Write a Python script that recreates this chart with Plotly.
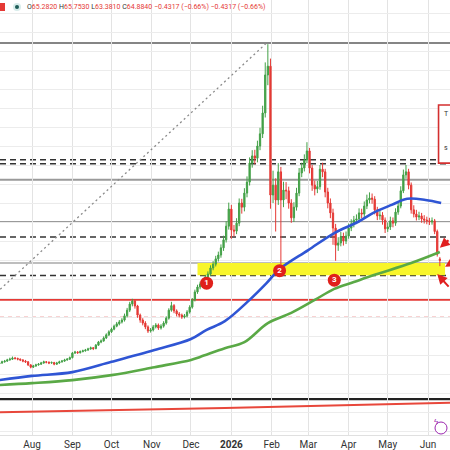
import plotly.graph_objects as go
import pandas as pd

# ---------------- data ----------------
candle_dates = pd.date_range("2025-07-07", periods=170, freq="2D")
FIRST_OPEN = 37.7
LAST_O, LAST_H, LAST_L, LAST_C = 65.2820, 65.7530, 63.3810, 64.8840
CHANGE, CHANGE_PCT = -0.4317, -0.66

closes = [37.9, 38.2, 38.4, 38.7, 38.9, 39.2, 39.1, 38.9, 38.7, 38.4,
          38.2, 37.4, 36.8, 37.1, 37.4, 37.6, 37.9, 38.2, 38.1, 37.9,
          38.0, 37.6, 37.9, 38.2, 38.4, 38.7, 38.9, 39.3, 40.5, 40.8,
          40.6, 40.9, 41.1, 41.3, 41.6, 41.9, 41.7, 42.6, 43.4, 43.7,
          44.5, 45.3, 46.1, 46.8, 47.6, 48.2, 48.7, 49.2, 50.3, 51.8,
          53.4, 54.2, 52.9, 50.5, 49.2, 48.4, 47.4, 46.3, 46.6, 47.4,
          47.9, 47.1, 47.6, 48.4, 49.7, 51.8, 53.0, 51.6, 50.8, 50.5,
          50.0, 50.3, 51.3, 52.6, 54.5, 56.6, 57.9, 58.7, 58.4, 60.5,
          61.3, 62.9, 63.9, 65.3, 66.3, 68.2, 70.3, 73.9, 78.4, 72.9,
          72.6, 74.7, 80.0, 78.9, 82.6, 85.5, 90.5, 92.4, 91.8, 95.0,
          98.2, 103.7, 113.7, 116.0, 82.1, 84.7, 80.8, 88.2, 80.8, 83.4,
          83.2, 80.0, 76.1, 78.9, 82.6, 87.9, 89.2, 91.3, 93.7, 89.2,
          84.7, 83.7, 84.3, 88.9, 88.2, 82.9, 80.0, 77.4, 73.4, 68.9,
          69.5, 71.1, 70.0, 71.3, 73.4, 74.5, 75.5, 75.8, 77.4, 77.1,
          79.2, 80.8, 81.3, 81.0, 78.2, 76.6, 76.8, 75.5, 73.2, 73.7,
          75.3, 74.7, 77.6, 79.2, 83.2, 87.4, 88.2, 84.7, 78.2, 77.1,
          76.3, 76.6, 75.8, 75.5, 75.3, 75.0, 75.3, 72.5, 66.5] + [LAST_C]

highs = [38.2, 38.5, 38.7, 39.0, 39.3, 39.6, 39.5, 39.3, 39.1, 38.9,
         38.7, 38.4, 37.6, 37.4, 37.7, 37.9, 38.2, 38.5, 38.4, 38.3,
         38.3, 38.2, 38.2, 38.5, 38.7, 39.0, 39.2, 39.6, 40.8, 41.1,
         41.0, 41.2, 41.4, 41.6, 41.9, 42.2, 42.1, 42.9, 43.7, 44.1,
         44.9, 45.7, 46.5, 47.2, 48.0, 48.7, 49.2, 49.7, 50.9, 52.4,
         54.0, 54.8, 54.5, 53.2, 50.9, 49.7, 48.9, 47.8, 47.1, 47.9,
         48.4, 48.3, 48.1, 48.9, 50.2, 52.3, 54.0, 53.4, 52.0, 51.3,
         50.9, 50.8, 51.8, 53.1, 55.0, 57.2, 58.5, 59.3, 59.4, 61.1,
         62.0, 63.6, 64.7, 66.1, 67.2, 69.1, 71.4, 75.2, 80.1, 79.5,
         74.2, 76.0, 81.2, 81.1, 83.9, 87.0, 92.0, 93.9, 94.0, 96.4,
         99.8, 105.6, 117.0, 121.8, 118.0, 88.5, 86.5, 90.5, 89.5, 85.6,
         85.5, 84.3, 81.0, 80.2, 84.0, 89.2, 90.6, 92.8, 96.0, 94.5,
         90.0, 85.9, 85.8, 90.0, 90.6, 89.0, 84.0, 81.2, 78.5, 74.5,
         71.0, 72.4, 72.2, 72.5, 74.6, 75.7, 76.6, 77.0, 78.6, 78.5,
         80.4, 82.2, 82.8, 82.5, 81.8, 79.0, 78.0, 77.6, 76.2, 74.9,
         76.4, 76.2, 78.6, 80.3, 84.4, 88.8, 90.0, 89.0, 85.4, 79.4,
         78.2, 77.7, 77.4, 76.8, 76.4, 76.1, 76.2, 75.8, 73.0] + [LAST_H]

lows = [37.5, 37.7, 38.0, 38.2, 38.5, 38.7, 38.8, 38.6, 38.4, 38.1,
        37.9, 37.1, 36.5, 36.6, 36.9, 37.2, 37.4, 37.7, 37.8, 37.6,
        37.7, 37.3, 37.4, 37.7, 38.0, 38.2, 38.5, 38.7, 39.1, 40.3,
        40.3, 40.4, 40.7, 40.9, 41.1, 41.4, 41.3, 41.5, 42.4, 43.1,
        43.5, 44.2, 45.0, 45.8, 46.5, 47.3, 47.8, 48.3, 48.8, 49.9,
        51.3, 52.8, 52.2, 49.8, 48.5, 47.8, 46.8, 45.8, 45.9, 46.2,
        47.0, 46.6, 46.7, 47.2, 48.0, 49.3, 51.4, 51.0, 50.2, 49.9,
        49.5, 49.6, 49.9, 50.9, 52.2, 54.1, 56.1, 57.3, 57.8, 58.0,
        59.9, 60.8, 62.3, 63.3, 64.6, 65.6, 67.4, 69.6, 73.0, 70.6,
        71.2, 71.8, 73.9, 77.2, 77.8, 81.5, 84.6, 89.3, 90.2, 90.7,
        93.9, 97.1, 102.5, 111.0, 78.5, 80.0, 72.5, 79.5, 63.8, 78.9,
        81.0, 78.5, 74.8, 75.0, 78.0, 81.8, 86.8, 88.3, 90.5, 87.8,
        83.2, 82.0, 82.6, 83.5, 86.8, 81.5, 78.6, 76.0, 69.0, 64.8,
        67.4, 68.6, 68.8, 69.2, 70.6, 72.6, 73.6, 74.6, 74.9, 76.0,
        76.3, 78.4, 79.9, 79.8, 77.0, 75.5, 75.6, 74.3, 72.1, 72.4,
        72.9, 73.6, 74.0, 76.9, 78.6, 82.6, 86.4, 83.6, 77.2, 76.2,
        75.4, 75.5, 74.8, 74.6, 74.4, 74.2, 74.3, 71.8, 65.9] + [LAST_L]

opens = [FIRST_OPEN] + closes[:-2] + [LAST_O]

ma_blue_dates = ["2025-07-07", "2025-08-01", "2025-09-01", "2025-10-01", "2025-11-03",
                 "2025-12-01", "2025-12-13", "2025-12-27", "2026-01-15", "2026-01-28",
                 "2026-02-07", "2026-03-01", "2026-03-21", "2026-04-08", "2026-04-21",
                 "2026-05-04", "2026-05-16", "2026-05-30", "2026-06-11"]
ma_blue = [33.4, 34.5, 35.5, 38.2, 41.3, 44.2, 46.6, 48.9, 54.5, 58.9,
           62.6, 67.6, 72.1, 75.0, 77.6, 79.5, 81.1, 80.8, 80.0]

ma_green_dates = ["2025-07-07", "2025-08-01", "2025-09-01", "2025-10-01", "2025-11-03",
                  "2025-12-01", "2025-12-08", "2025-12-27", "2026-01-11", "2026-01-29",
                  "2026-02-16", "2026-03-06", "2026-03-21", "2026-04-05", "2026-04-21",
                  "2026-05-19", "2026-06-10"]
ma_green = [32.1, 32.6, 33.4, 34.7, 36.8, 38.7, 39.5, 41.8, 43.4, 48.4,
            51.1, 54.5, 57.4, 59.2, 61.1, 64.2, 67.1]

ma_red_dates = ["2025-07-01", "2025-12-27", "2026-06-20"]
ma_red = [24.9, 26.05, 27.45]

trend_dates = ["2025-06-01", "2026-01-28"]
trend_prices = [45.7, 122.1]

ath_level = 122.1
dash_levels = [91.4, 90.3, 71.05, 60.95]
gray_levels = [86.1, 75.0]
zone_top, zone_bottom = 64.2, 61.0
zone_start, zone_end = "2025-12-06", "2026-06-14"
red_level = 54.6
pink_level = 50.0
black_level = 28.4

marker_dates = ["2025-12-13", "2026-02-07", "2026-03-21"]
marker_prices = [58.9, 62.2, 59.7]
marker_labels = ["1", "2", "3"]

arrow_dates = ["2026-06-10", "2026-06-14", "2026-06-08"]
arrow_prices = [68.2, 63.2, 61.3]

box_start, box_end = "2026-06-09", "2026-07-10"
box_low, box_high = 90.5, 105.8

month_ticks = ["2025-08-01", "2025-09-01", "2025-10-01", "2025-11-01", "2025-12-01",
               "2026-01-01", "2026-02-01", "2026-03-01", "2026-04-01", "2026-05-01", "2026-06-01"]
month_labels = ["Aug", "Sep", "Oct", "Nov", "Dec", "<b>2026</b>", "Feb", "Mar", "Apr", "May", "Jun"]

X_RANGE = ["2025-07-07 10:30", "2026-06-17 19:00"]
Y_RANGE = [18.95, 133.42]

GREEN = "#43a047"
RED = "#e53935"

# ---------------- figure ----------------
fig = go.Figure()

fig.add_trace(go.Scatter(x=trend_dates, y=trend_prices, mode="lines",
                         line=dict(color="#8a8a8a", width=1.3, dash="2px,3px"),
                         hoverinfo="skip", showlegend=False))

fig.add_trace(go.Candlestick(
    x=candle_dates, open=opens, high=highs, low=lows, close=closes,
    increasing=dict(line=dict(color=GREEN, width=1), fillcolor=GREEN),
    decreasing=dict(line=dict(color=RED, width=1), fillcolor=RED),
    whiskerwidth=0, showlegend=False))

fig.add_trace(go.Scatter(x=ma_red_dates, y=ma_red, mode="lines",
                         line=dict(color="#e8473b", width=2.2), showlegend=False))
fig.add_trace(go.Scatter(x=ma_green_dates, y=ma_green, mode="lines", line_shape="spline",
                         line=dict(color="#5aa946", width=2.6), showlegend=False))
fig.add_trace(go.Scatter(x=ma_blue_dates, y=ma_blue, mode="lines", line_shape="spline",
                         line=dict(color="#2f55d4", width=2.6), showlegend=False))

fig.add_trace(go.Scatter(x=marker_dates, y=marker_prices, mode="markers+text",
                         text=[f"<b>{t}</b>" for t in marker_labels], textposition="middle center",
                         textfont=dict(color="white", size=8, family="Roboto"),
                         marker=dict(size=13, color="#e0201b", line=dict(width=0)),
                         showlegend=False))

shapes = []
shapes.append(dict(type="rect", xref="x", yref="y", x0=zone_start, x1=zone_end,
                   y0=zone_bottom, y1=zone_top, fillcolor="#f8f52a", line=dict(width=0),
                   layer="between"))
shapes.append(dict(type="line", xref="paper", yref="y", x0=0, x1=1, y0=ath_level, y1=ath_level,
                   line=dict(color="#5c5c5c", width=1.6), layer="between"))
for lv in gray_levels:
    shapes.append(dict(type="line", xref="paper", yref="y", x0=0, x1=1, y0=lv, y1=lv,
                       line=dict(color="#9a9a9a", width=2), layer="between"))
shapes.append(dict(type="line", xref="paper", yref="y", x0=0, x1=1, y0=zone_top, y1=zone_top,
                   line=dict(color="#a8a8a8", width=1.4), layer="between"))
for lv in dash_levels:
    shapes.append(dict(type="line", xref="paper", yref="y", x0=0, x1=1, y0=lv, y1=lv,
                       line=dict(color="#333333", width=1.5, dash="6px,4px"), layer="between"))
shapes.append(dict(type="line", xref="paper", yref="y", x0=0, x1=1, y0=red_level, y1=red_level,
                   line=dict(color="#e53935", width=2.4), layer="between"))
shapes.append(dict(type="line", xref="paper", yref="y", x0=0, x1=1, y0=pink_level, y1=pink_level,
                   line=dict(color="#f0a4a4", width=1, dash="4px,4px"), layer="between"))
shapes.append(dict(type="line", xref="paper", yref="y", x0=0, x1=1, y0=black_level, y1=black_level,
                   line=dict(color="#222222", width=2.2), layer="between"))
shapes.append(dict(type="rect", xref="x", yref="y", x0=box_start, x1=box_end,
                   y0=box_low, y1=box_high, fillcolor="white",
                   line=dict(color="#d32f2f", width=1.6), layer="above"))
shapes.append(dict(type="rect", xref="paper", yref="paper", x0=0, x1=5 / 450,
                   y0=1 - 11 / 435, y1=1 - 3 / 435, fillcolor="#e53935",
                   line=dict(width=0)))
shapes.append(dict(type="circle", xref="paper", yref="paper", x0=13 / 450, x1=21 / 450,
                   y0=1 - 11 / 435, y1=1 - 3 / 435, fillcolor="#d7ecea",
                   line=dict(width=0)))
shapes.append(dict(type="circle", xref="paper", yref="paper", x0=15 / 450, x1=19 / 450,
                   y0=1 - 9 / 435, y1=1 - 5 / 435, fillcolor="#1d5c57",
                   line=dict(width=0)))
shapes.append(dict(type="circle", xref="paper", yref="paper", x0=435 / 450, x1=447 / 450,
                   y0=1 - 434 / 435, y1=1 - 422 / 435, fillcolor="white",
                   line=dict(color="#9c27b0", width=1)))

annotations = []
fmt = lambda v: f"{v:.4f}".replace("-", "−")
chg = f"{CHANGE:.4f}".replace("-", "−")
pct = f"{CHANGE_PCT:.2f}".replace("-", "−")
k = "<span style='color:#333333'>{}</span>"
r = "<span style='color:#e53935'>{}</span>"
legend_txt = (k.format("O") + r.format(fmt(LAST_O)) + " " + k.format("H") + r.format(fmt(LAST_H)) + " "
              + k.format("L") + r.format(fmt(LAST_L)) + " " + k.format("C") + r.format(fmt(LAST_C)) + " "
              + r.format(f"{chg} ({pct}%)") + " " + r.format(f"{chg} ({pct}%)"))
annotations.append(dict(xref="paper", yref="paper", x=25 / 450, y=1 - 7 / 435, xanchor="left",
                        yanchor="middle", text=legend_txt, showarrow=False,
                        font=dict(size=7, family="Liberation Sans Narrow, Roboto, sans-serif")))
for d, p, ax, ay in zip(arrow_dates, arrow_prices, [15, 12, 15], [-9, -3, 14]):
    annotations.append(dict(x=d, y=p, xref="x", yref="y", ax=ax, ay=ay, showarrow=True,
                            arrowhead=2, arrowsize=1, arrowwidth=2, arrowcolor="#e02020", text=""))
annotations.append(dict(xref="paper", yref="y", x=442 / 450, y=103.4, xanchor="left",
                        text="T", showarrow=False, font=dict(size=7, color="#333", family="Roboto")))
annotations.append(dict(xref="paper", yref="y", x=442 / 450, y=94.5, xanchor="left",
                        text="s", showarrow=False, font=dict(size=7, color="#333", family="Roboto")))
annotations.append(dict(xref="paper", yref="paper", x=441 / 450, y=1 - 428 / 435,
                        text="ϟ", showarrow=False, font=dict(size=8, color="#9c27b0")))

fig.update_layout(
    width=450, height=450,
    margin=dict(l=0, r=0, t=0, b=15),
    paper_bgcolor="white", plot_bgcolor="white",
    showlegend=False,
    shapes=shapes, annotations=annotations,
    xaxis=dict(range=X_RANGE, type="date", rangeslider=dict(visible=False),
               tickvals=month_ticks, ticktext=month_labels, ticks="",
               tickfont=dict(size=10, color="#333333", family="Roboto"),
               showgrid=True, gridcolor="#e3e3e3", gridwidth=1,
               showline=True, linecolor="#e0e0e0", zeroline=False, fixedrange=True),
    yaxis=dict(range=Y_RANGE, showticklabels=False, ticks="", tick0=0, dtick=5,
               showgrid=True, gridcolor="#ececec", gridwidth=1, zeroline=False,
               showline=False),
)

fig.write_html("out.html")
